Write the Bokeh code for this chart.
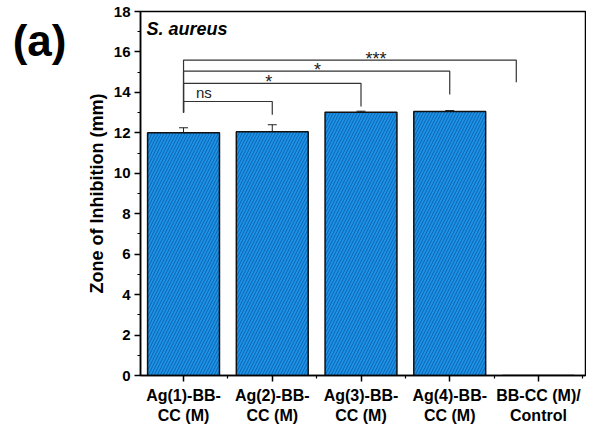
from bokeh.plotting import figure
from bokeh.models import (ColumnDataSource, Whisker, Label, FixedTicker, Range1d,
                          LinearAxis)
from bokeh.core.properties import value
from bokeh.embed import file_html
from bokeh.resources import INLINE

# ---- data ----
categories = ["Ag(1)-BB-\nCC (M)", "Ag(2)-BB-\nCC (M)", "Ag(3)-BB-\nCC (M)",
              "Ag(4)-BB-\nCC (M)", "BB-CC (M)/\nControl"]
positions = [1, 2, 3, 4, 5]
values = [12.0, 12.05, 13.02, 13.05, 0.0]
errors = [0.25, 0.35, 0.05, 0.05, 0.0]
y_ticks = [0, 2, 4, 6, 8, 10, 12, 14, 16, 18]

# significance brackets
br_left = [1, 1, 1, 1]
br_right = [2, 3, 4, 4.75]
br_height = [13.55, 14.45, 15.05, 15.6]
br_left_drop = [13.0, 13.0, 13.0, 13.0]
br_right_drop = [12.9, 13.3, 13.9, 14.5]
br_labels = ["ns", "*", "*", "***"]
br_label_x = [1.23, 1.96, 2.51, 3.17]

panel_label = "(a)"
panel_label_y = 16.55

FONT = "Liberation Sans"

p = figure(width=586, height=432, output_backend="svg", toolbar_location=None,
           x_range=Range1d(0.515, 5.53), y_range=Range1d(0, 18),
           min_border_left=140, min_border_right=1, min_border_top=11,
           min_border_bottom=57)
p.outline_line_color = "black"
p.outline_line_width = 1.5
p.grid.visible = False

src = ColumnDataSource(dict(x=positions, top=values,
                            upper=[v + e for v, e in zip(values, errors)],
                            lower=[v - e for v, e in zip(values, errors)]))
p.vbar(x="x", top="top", width=0.81, source=src, fill_color="#1C90E4",
       line_color="#111111", line_width=1.5,
       hatch_pattern="/", hatch_color="#0D63AE", hatch_scale=6, hatch_weight=1.0,
       hatch_alpha=0.9)

w = Whisker(source=src, base="x", upper="upper", lower="lower",
            line_color="#222222", line_width=1)
w.upper_head.size = 9
w.lower_head.size = 9
w.upper_head.line_color = "#222222"
w.lower_head.line_color = "#222222"
p.add_layout(w)

# brackets
xs, ys = [], []
for l, r, h, ld, rd in zip(br_left, br_right, br_height, br_left_drop, br_right_drop):
    xs.append([l, l, r, r])
    ys.append([ld, h, h, rd])
p.multi_line(xs, ys, line_color="#333333", line_width=1.2)

ns_x = [x for x, t in zip(br_label_x, br_labels) if t == "ns"]
ns_y = [h + 0.42 for h, t in zip(br_height, br_labels) if t == "ns"]
ns_t = [t for t in br_labels if t == "ns"]
st_x = [x for x, t in zip(br_label_x, br_labels) if t != "ns"]
st_y = [h + 0.07 for h, t in zip(br_height, br_labels) if t != "ns"]
st_t = [t for t in br_labels if t != "ns"]
p.text(ns_x, ns_y, text=ns_t, text_font_size="15px", text_align="center",
       text_baseline="alphabetic", text_color="#222222", text_font=value(FONT))
p.text(st_x, st_y, text=st_t, text_font_size="18px", text_align="center",
       text_baseline="alphabetic", text_color="#222222", text_font=value(FONT))

# axes
p.xaxis.ticker = FixedTicker(ticks=positions, minor_ticks=[1.5, 2.5, 3.5, 4.5, 5.5])
p.xaxis.major_label_overrides = {pos: c for pos, c in zip(positions, categories)}
p.yaxis.ticker = FixedTicker(ticks=y_ticks, minor_ticks=list(range(1, 18, 2)))
for ax in (p.xaxis[0], p.yaxis[0]):
    ax.axis_line_width = 1.5
    ax.major_tick_line_width = 1.5
    ax.minor_tick_line_width = 1.2
    ax.major_tick_out = 6
    ax.major_tick_in = 0
    ax.minor_tick_out = 3
    ax.minor_tick_in = 0
    ax.major_label_text_font = FONT
    ax.major_label_text_font_style = "bold"
    ax.major_label_text_color = "black"
p.xaxis.major_label_standoff = 5
p.xaxis.major_label_text_font_size = "16px"
p.yaxis.major_label_text_font_size = "15px"
p.yaxis.major_label_standoff = 4
p.yaxis.axis_label = "Zone of Inhibition (mm)"
p.yaxis.axis_label_text_font = FONT
p.yaxis.axis_label_text_font_style = "bold"
p.yaxis.axis_label_text_font_size = "18px"
p.yaxis.axis_label_text_color = "black"
p.yaxis.axis_label_standoff = 4

# panel letter as an outer, line-less axis
pa = LinearAxis(ticker=FixedTicker(ticks=[panel_label_y]),
                major_label_overrides={panel_label_y: panel_label},
                axis_line_color=None, major_tick_line_color=None,
                minor_tick_line_color=None,
                major_label_text_font=FONT, major_label_text_font_style="bold",
                major_label_text_font_size="44px", major_label_text_color="black",
                major_label_orientation="horizontal", major_label_standoff=11)
p.add_layout(pa, "left")

p.add_layout(Label(x=0.583, y=17.65, text="S. aureus", text_font=FONT,
                   text_font_style="bold italic", text_font_size="18px",
                   text_baseline="top", text_color="black"))

open("out.html", "w").write(file_html(p, INLINE))
